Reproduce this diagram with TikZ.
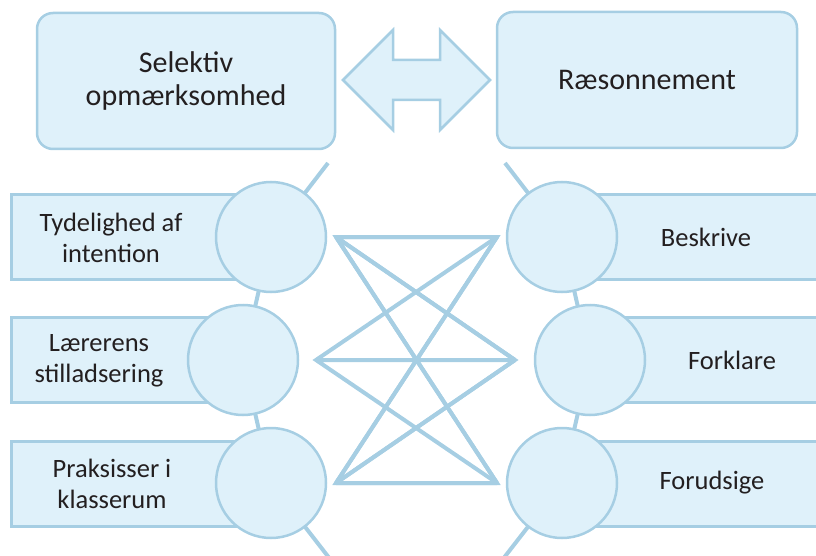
\documentclass[tikz,border=0pt]{standalone}
\usepackage{fontspec}
\setmainfont{Carlito}
\usetikzlibrary{positioning, backgrounds}
\definecolor{edgeblue}{RGB}{166,206,227}
\definecolor{paleblue}{RGB}{223,241,250}
\definecolor{inkgray}{RGB}{35,31,32}
\tikzset{topbox/.style={draw=edgeblue, fill=paleblue, rounded corners=16pt, minimum width=298pt, minimum height=136pt, font=\fontsize{30}{33}\selectfont},
         bar/.style={draw=edgeblue, fill=paleblue, minimum height=85pt, inner sep=0pt, anchor=west},
         ring/.style={circle, draw=edgeblue, fill=paleblue, minimum size=110pt, inner sep=0pt},
         link/.style={draw=edgeblue, line width=4pt}}

\begin{document}
\begin{tikzpicture}[x=1pt, y=-1pt, line width=2.5pt, every node/.style={text=inkgray, align=center, font=\fontsize{26.5}{31}\selectfont}]
        \useasboundingbox (0,0) rectangle (816,556);
        \node[topbox] (sel) at (186,81) {Selektiv\\opmærksomhed};
        \node[topbox, minimum width=300pt] (raes) at (647,80) {Ræsonnement};
        \filldraw[draw=edgeblue, fill=paleblue] (343,80) -- (393,30) -- (393,60) -- (440,60) -- (440,30) -- (490,80)
            -- (440,130) -- (440,100) -- (393,100) -- (393,130) -- cycle;
        \node[bar, minimum width=261pt] (lb1) at (10,237) {};
        \node[bar, minimum width=261pt] (lb2) at (10,360) {};
        \node[bar, minimum width=261pt] (lb3) at (10,484) {};
        \node[bar, minimum width=270pt] (rb1) at (562,237) {};
        \node[bar, minimum width=270pt] (rb2) at (562,360) {};
        \node[bar, minimum width=270pt] (rb3) at (562,484) {};
        \node[ring] (l1) at (271,237) {};
        \node[ring] (l2) at (243,360) {};
        \node[ring] (l3) at (271,483) {};
        \node[ring] (r1) at (562,237) {};
        \node[ring] (r2) at (590,360) {};
        \node[ring] (r3) at (562,483) {};
        \node (t1) at (111,238) {Tydelighed af\\intention};
        \node (t2) at (99,361) {Lærerens\\stilladsering};
        \node (t3) at (112,484) {Praksisser i\\klasserum};
        \node (t4) at (706,237) {Beskrive};
        \node (t5) at (732,360) {Forklare};
        \node (t6) at (712,483) {Forudsige};
        \coordinate (ltop) at (328,163);
        \coordinate (lbot) at (330,559);
        \coordinate (rtop) at (505,163);
        \coordinate (rbot) at (503,559);
        \coordinate (a1) at (336,237);
        \coordinate (a2) at (316,360);
        \coordinate (a3) at (336,483);
        \coordinate (b1) at (497,237);
        \coordinate (b2) at (515,360);
        \coordinate (b3) at (497,483);
        \begin{pgfonlayer}{background}
        \draw[link] (ltop) -- (l1.center) -- (l2.center) -- (l3.center) -- (lbot);
        \draw[link] (rtop) -- (r1.center) -- (r2.center) -- (r3.center) -- (rbot);
        \end{pgfonlayer}
        \foreach \i in {1,2,3} {
            \draw[link] (b1) -- (a\i) -- (b3) (a\i) -- (b2);
            \draw[link] (a1) -- (b\i) -- (a3);
        }
    \end{tikzpicture}
\end{document}
